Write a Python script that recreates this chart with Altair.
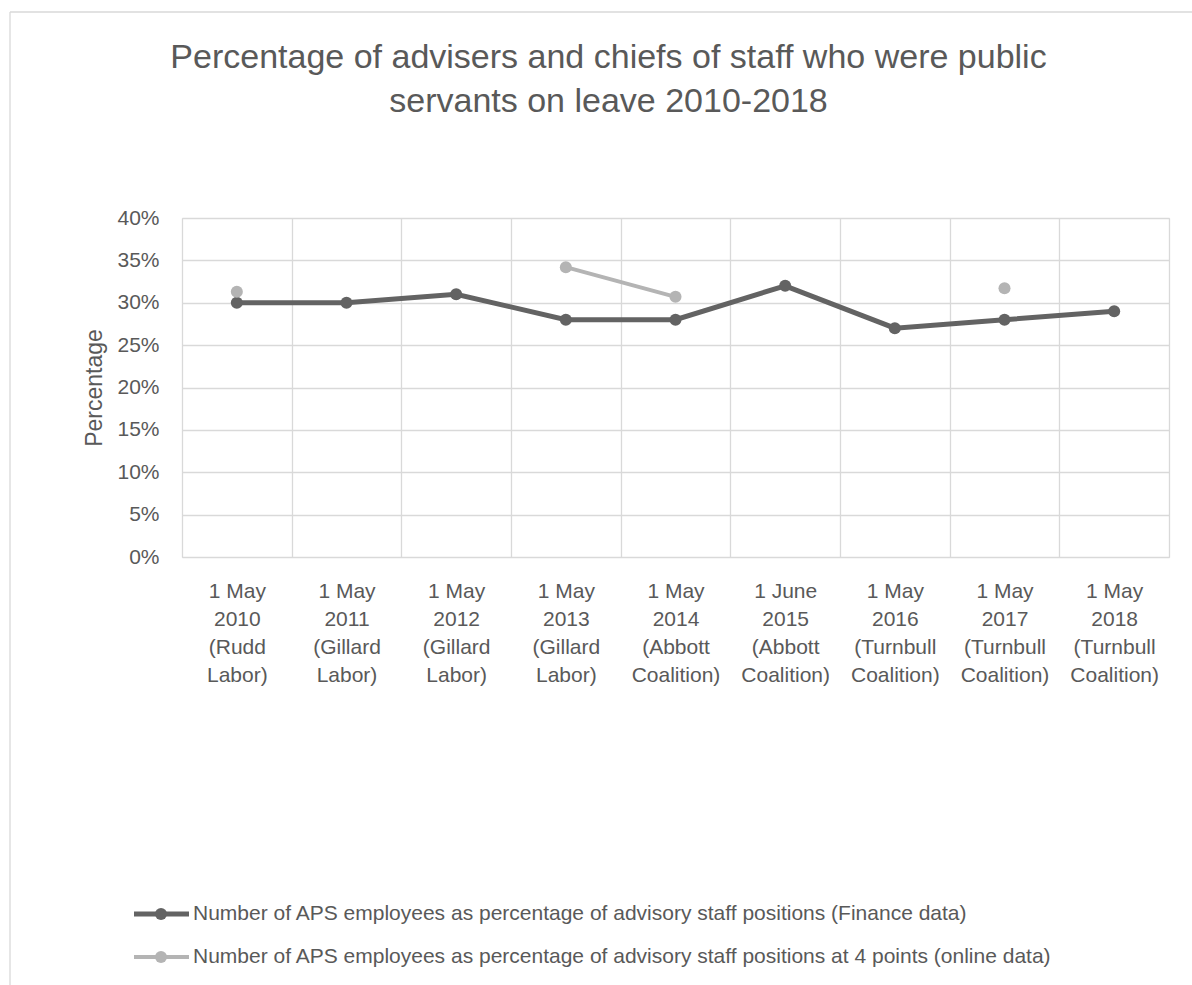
import altair as alt
import pandas as pd

FONT = "Liberation Sans, Arial, sans-serif"
TEXT = "#595959"
GRID = "#d9d9d9"

categories = [
    "1 May|2010|(Rudd|Labor)",
    "1 May|2011|(Gillard|Labor)",
    "1 May|2012|(Gillard|Labor)",
    "1 May|2013|(Gillard|Labor)",
    "1 May|2014|(Abbott|Coalition)",
    "1 June|2015|(Abbott|Coalition)",
    "1 May|2016|(Turnbull|Coalition)",
    "1 May|2017|(Turnbull|Coalition)",
    "1 May|2018|(Turnbull|Coalition)",
]
finance_pct = [30, 30, 31, 28, 28, 32, 27, 28, 29]
online_pct = [31.3, None, None, 34.2, 30.7, None, None, 31.7, None]
series_names = [
    "Number of APS employees as percentage of advisory staff positions (Finance data)",
    "Number of APS employees as percentage of advisory staff positions at 4 points (online data)",
]
series_colors = ["#636363", "#b4b4b4"]
series_widths = [5, 4]
y_ticks = [0, 5, 10, 15, 20, 25, 30, 35, 40]

rows = []
for name, vals in zip(series_names, [finance_pct, online_pct]):
    seg = 0
    prev_none = True
    for cat, v in zip(categories, vals):
        if v is None:
            prev_none = True
            continue
        if prev_none:
            seg += 1
        prev_none = False
        rows.append({"cat": cat, "val": v, "series": name, "seg": f"{name}-{seg}"})
df = pd.DataFrame(rows)

color = alt.Color("series:N", scale=alt.Scale(domain=series_names, range=series_colors), legend=None)
swidth = alt.StrokeWidth("series:N", scale=alt.Scale(domain=series_names, range=series_widths), legend=None)

x = alt.X(
    "cat:N",
    sort=categories,
    bandPosition=0.5,
    scale=alt.Scale(type="band", domain=categories, paddingInner=0, paddingOuter=0),
    axis=alt.Axis(
        title=None, labelAngle=0, ticks=False, domain=False, grid=True, tickBand="extent",
        gridColor=GRID, gridWidth=1.3, labelExpr="split(datum.label, '|')",
        labelFont=FONT, labelFontSize=21, labelColor=TEXT, labelLineHeight=28,
        labelPadding=23, labelOverlap=False, labelBound=False, labelBaseline="top",
    ),
)
y = alt.Y(
    "val:Q",
    scale=alt.Scale(domain=[0, 40], nice=False),
    axis=alt.Axis(
        title="Percentage", values=y_ticks, labelExpr="datum.value + '%'", ticks=False, domain=False,
        grid=True, gridColor=GRID, gridWidth=1.3, labelFont=FONT, labelFontSize=21,
        labelColor=TEXT, labelPadding=23, titleFont=FONT, titleFontSize=23,
        titleFontWeight="normal", titleColor=TEXT, titlePadding=10,
    ),
)

base = alt.Chart(df)
lines = base.mark_line().encode(x=x, y=y, color=color, strokeWidth=swidth, detail="seg:N")
points = base.mark_circle(size=145, opacity=1).encode(x=x, y=y, color=color)

one = pd.DataFrame({"k": [0]})
frame_top = alt.Chart(one).mark_rule(color=GRID, strokeWidth=1.3).encode(
    x=alt.value(-172), x2=alt.value(1010), y=alt.value(-206)
)
frame_left = alt.Chart(one).mark_rule(color=GRID, strokeWidth=1.3).encode(
    x=alt.value(-172), y=alt.value(-206), y2=alt.value(767)
)

main = alt.layer(frame_top, frame_left, lines, points)

leg_df = pd.DataFrame({"series": series_names})
ly = alt.Y("series:N", scale=alt.Scale(type="point", domain=series_names, range=[696, 739], padding=0), axis=None)
leg_base = alt.Chart(leg_df)
leg_rule = leg_base.mark_rule().encode(x=alt.value(-48), x2=alt.value(7), y=ly, color=color, strokeWidth=swidth)
leg_pt = leg_base.mark_circle(size=145, opacity=1).encode(x=alt.value(-21), y=ly, color=color)
leg_txt = leg_base.mark_text(align="left", baseline="middle", font=FONT, fontSize=21, color=TEXT).encode(
    x=alt.value(11), y=ly, text="series:N"
)
legend = alt.layer(leg_rule, leg_pt, leg_txt)

chart = (
    alt.layer(main, legend)
    .resolve_scale(y="independent")
    .properties(
        width=987,
        height=339,
        padding={"left": 182, "top": 218, "right": 23, "bottom": 428},
        autosize=alt.AutoSizeParams(type="none"),
        title=alt.Title(
            text=["Percentage of advisers and chiefs of staff who were public", "servants on leave 2010-2018"],
            font=FONT, fontSize=34, fontWeight="normal", color=TEXT, lineHeight=44,
            anchor="middle", frame="group", dx=-67, offset=-108,
        ),
    )
    .configure_view(stroke=None)
    .configure(background="white")
)

chart.save("out.html", embed_options={"renderer": "svg", "actions": False})
